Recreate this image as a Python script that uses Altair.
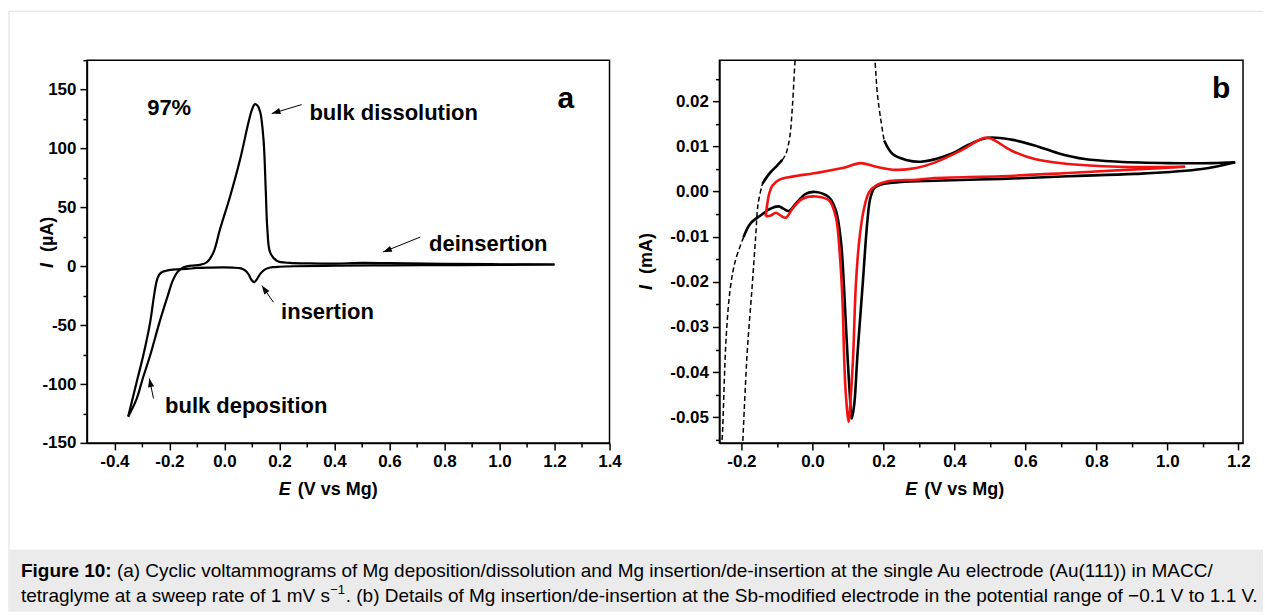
import altair as alt
import pandas as pd

# ---------------- Panel a : Au(111), current in uA ----------------
a_cath_E = [1.20, 1.00, 0.80, 0.60, 0.40, 0.25, 0.20, 0.175, 0.160, 0.145, 0.130, 0.118, 0.108,
            0.098, 0.088, 0.075, 0.060, 0.030, 0.000, -0.050, -0.100, -0.137, -0.170, -0.197,
            -0.215, -0.228, -0.238, -0.246, -0.256, -0.270, -0.295, -0.316, -0.350]
a_cath_I = [1.5, 1.2, 1.0, 0.8, 0.5, 0.0, -0.4, -0.8, -1.5, -3.0, -6.5, -11.0, -13.5,
            -11.5, -7.0, -3.5, -1.8, -1.2, -1.0, -1.1, -1.4, -2.3, -2.6, -3.1,
            -4.0, -5.1, -7.5, -12.2, -24.9, -47.4, -75.6, -95.3, -127.7]
a_anod_E = [-0.350, -0.320, -0.297, -0.270, -0.236, -0.206, -0.188, -0.171, -0.150, -0.120,
            -0.090, -0.064, -0.040, -0.016, 0.021, 0.057, 0.087, 0.100, 0.110, 0.120, 0.130,
            0.142, 0.150, 0.156, 0.166, 0.190, 0.239, 0.300, 0.400, 0.500, 0.600, 0.800,
            1.000, 1.200]
a_anod_I = [-127.7, -113.0, -95.3, -75.6, -47.4, -24.9, -12.2, -5.0, -1.0, 0.5,
            1.2, 3.4, 11.8, 31.6, 59.7, 90.8, 121.8, 133.0, 137.6, 136.5, 131.0,
            107.7, 65.4, 31.6, 11.8, 4.7, 2.8, 2.5, 2.3, 2.8, 2.6, 2.0,
            1.7, 1.5]

a_ann_text = ["97%", "bulk dissolution", "deinsertion", "insertion", "bulk deposition"]
a_ann_E = [-0.281, 0.309, 0.744, 0.206, -0.216]
a_ann_I = [134.8, 130.3, 18.9, -38.7, -119.0]

a_arrow_E0 = [0.281, 0.712, 0.178, -0.258]
a_arrow_I0 = [137.3, 24.8, -30.5, -112.3]
a_arrow_E1 = [0.172, 0.577, 0.136, -0.273]
a_arrow_I1 = [129.7, 12.1, -16.4, -95.3]
a_arrow_ang = [163.3, 158.0, 235.0, 258.7]

# ---------------- Panel b : Sb-modified electrode, current in mA ----------------
# black CV: solid parts and sparse (dashed-looking) parts
bk_cath_E = [1.191, 1.097, 0.909, 0.720, 0.532, 0.344, 0.249, 0.200, 0.175, 0.163, 0.155, 0.141,
             0.127, 0.118, 0.111, 0.104, 0.096, 0.089, 0.080, 0.066, 0.047, 0.009, -0.019,
             -0.047, -0.066, -0.082, -0.095, -0.118, -0.146, -0.175, -0.194]
bk_cath_I = [0.0065, 0.0050, 0.0039, 0.0034, 0.0028, 0.0024, 0.0021, 0.0017, 0.0008, -0.0015,
             -0.0064, -0.0212, -0.0359, -0.0470, -0.0503, -0.0433, -0.0322, -0.0212, -0.0108,
             -0.0042, -0.0013, -0.0001, -0.0005, -0.0027, -0.0043, -0.0038, -0.0033, -0.0038,
             -0.0053, -0.0071, -0.0101]
bk_dep_E = [-0.194, -0.217, -0.231, -0.243, -0.254, -0.257]
bk_dep_I = [-0.0101, -0.0153, -0.0212, -0.0322, -0.0543, -0.0570]
bk_ret_E = [-0.197, -0.184, -0.170, -0.160, -0.153, -0.141]
bk_ret_I = [-0.0570, -0.0359, -0.0212, -0.0101, -0.0027, 0.0017]
bk_foot_E = [-0.141, -0.122, -0.099, -0.085]
bk_foot_I = [0.0017, 0.0039, 0.0058, 0.0070]
bk_rise_E = [-0.085, -0.075, -0.064, -0.056, -0.049, -0.046]
bk_rise_I = [0.0070, 0.0083, 0.0120, 0.0194, 0.0290, 0.0320]
bk_fall_E = [0.171, 0.176, 0.183, 0.193, 0.202]
bk_fall_I = [0.0320, 0.0290, 0.0216, 0.0157, 0.0113]
bk_anod_E = [0.202, 0.226, 0.264, 0.306, 0.390, 0.438, 0.494, 0.560, 0.626, 0.692, 0.767,
             0.862, 1.003, 1.125, 1.191]
bk_anod_I = [0.0113, 0.0083, 0.0070, 0.0066, 0.0083, 0.0103, 0.0119, 0.0115, 0.0102, 0.0085,
             0.0072, 0.0066, 0.0063, 0.0063, 0.0065]

rd_cath_E = [1.050, 0.909, 0.720, 0.532, 0.344, 0.292, 0.216, 0.179, 0.160, 0.146, 0.132, 0.122,
             0.115, 0.108, 0.102, 0.094, 0.089, 0.085, 0.077, 0.066, 0.047, 0.009, -0.028,
             -0.056, -0.075, -0.090, -0.103, -0.117, -0.132]
rd_cath_I = [0.0055, 0.0049, 0.0041, 0.0034, 0.0030, 0.0026, 0.0023, 0.0013, -0.0001, -0.0035,
             -0.0108, -0.0212, -0.0359, -0.0455, -0.0510, -0.0448, -0.0359, -0.0248, -0.0138,
             -0.0057, -0.0020, -0.0011, -0.0016, -0.0038, -0.0058, -0.0053, -0.0047, -0.0053,
             -0.0055]
rd_anod_E = [-0.132, -0.127, -0.122, -0.113, -0.094, -0.056, 0.009, 0.085, 0.136, 0.179, 0.235,
             0.292, 0.344, 0.419, 0.485, 0.504, 0.560, 0.626, 0.720, 0.862, 1.050]
rd_anod_I = [-0.0055, -0.0027, -0.0005, 0.0013, 0.0026, 0.0033, 0.0041, 0.0052, 0.0063, 0.0055,
             0.0048, 0.0052, 0.0064, 0.0091, 0.0119, 0.0117, 0.0091, 0.0072, 0.0061, 0.0055,
             0.0055]

# axis tick lists
a_x_ticks = [-0.4, -0.3, -0.2, -0.1, 0.0, 0.1, 0.2, 0.3, 0.4, 0.5, 0.6, 0.7, 0.8, 0.9, 1.0,
             1.1, 1.2, 1.3, 1.4]
a_y_ticks = [-150, -125, -100, -75, -50, -25, 0, 25, 50, 75, 100, 125, 150, 175]
b_x_ticks = [-0.2, -0.1, 0.0, 0.1, 0.2, 0.3, 0.4, 0.5, 0.6, 0.7, 0.8, 0.9, 1.0, 1.1, 1.2]
b_y_ticks = [-0.055, -0.05, -0.045, -0.04, -0.035, -0.03, -0.025, -0.02, -0.015, -0.01,
             -0.005, 0.0, 0.005, 0.01, 0.015, 0.02, 0.025]

caption_bold = "Figure 10:"
caption_l1 = ("(a) Cyclic voltammograms of Mg deposition/dissolution and Mg insertion/de-insertion "
              "at the single Au electrode (Au(111)) in MACC/")
caption_l2a = "tetraglyme at a sweep rate of 1 mV s"
caption_sup = "\u22121"
caption_l2b = (". (b) Details of Mg insertion/de-insertion at the Sb-modified electrode in the "
               "potential range of \u22120.1 V to 1.1 V.")

FONT = "Liberation Sans"
MINUS = "\u2212"


def seg(E, I, name):
    return pd.DataFrame({"E": E, "I": I, "seg": name, "i": list(range(len(E)))})


def major_test(mult):
    return f"abs(datum.value*{mult} - round(datum.value*{mult})) < 0.01"


def make_axis(values, mult, fmt):
    test = major_test(mult)
    return alt.Axis(
        values=values,
        labelExpr=f"{test} ? replace(format(datum.value, '{fmt}'), '{MINUS}', '-') : ''",
        tickSize={"condition": {"test": test, "value": 7}, "value": 4},
        labelFlush=False, labelOverlap=False, title=None, grid=False,
        labelPadding=4,
    )


# ---------------- Panel a ----------------
xa_scale = alt.Scale(domain=[-0.5, 1.4], nice=False, zero=False)
ya_scale = alt.Scale(domain=[-150, 175], nice=False, zero=False)
xa_axis = make_axis(a_x_ticks, 5, ".1f")
ya_axis = make_axis(a_y_ticks, 0.02, "d")

df_a = pd.concat([seg(a_cath_E, a_cath_I, "cath"), seg(a_anod_E, a_anod_I, "anod")])
lines_a = alt.Chart(df_a).mark_line(color="black", strokeWidth=2.2, interpolate="catmull-rom").encode(
    x=alt.X("E:Q", scale=xa_scale, axis=xa_axis),
    y=alt.Y("I:Q", scale=ya_scale, axis=ya_axis),
    detail="seg:N", order="i:Q")

ann_a = alt.Chart(pd.DataFrame({"E": a_ann_E, "I": a_ann_I, "t": a_ann_text})).mark_text(
    font=FONT, fontWeight="bold", fontSize=22, align="left", baseline="middle", color="black"
).encode(x=alt.X("E:Q", scale=xa_scale, axis=xa_axis),
         y=alt.Y("I:Q", scale=ya_scale, axis=ya_axis), text="t:N")

arr_df_a = pd.DataFrame({"E": a_arrow_E0, "I": a_arrow_I0, "E2": a_arrow_E1, "I2": a_arrow_I1,
                         "ang": a_arrow_ang})
arr_lines_a = alt.Chart(arr_df_a).mark_rule(color="black", strokeWidth=1).encode(
    x=alt.X("E:Q", scale=xa_scale, axis=xa_axis), y=alt.Y("I:Q", scale=ya_scale, axis=ya_axis),
    x2="E2:Q", y2="I2:Q")
HEAD = "M0,0L-1,-0.36L-1,0.36Z"
arr_heads_a = alt.Chart(arr_df_a).mark_point(shape=HEAD, filled=True, size=300, color="black",
                                             opacity=1).encode(
    x=alt.X("E2:Q", scale=xa_scale, axis=xa_axis), y=alt.Y("I2:Q", scale=ya_scale, axis=ya_axis),
    angle=alt.Angle("ang:Q", scale=None))

dummy = pd.DataFrame({"d": [0]})


def txt(t, x, y, size=18, style="normal", weight="bold", angle=0, align="left"):
    kw = dict(text=t, font=FONT, fontSize=size, fontStyle=style, fontWeight=weight,
              align=align, baseline="middle", color="black")
    if angle:
        kw["angle"] = angle
    return alt.Chart(dummy).mark_text(**kw).encode(x=alt.value(x), y=alt.value(y))


panel_a = alt.layer(
    lines_a, arr_lines_a, arr_heads_a, ann_a,
    txt("a", 471, 39, size=30),
    txt("E", 192, 430, style="italic"),
    txt("(V vs Mg)", 211, 430),
    txt("(\u00b5A)", -39, 192, angle=270),
    txt("I", -39, 208, style="italic", angle=270),
).properties(width=523, height=383)

# ---------------- Panel b ----------------
xb_scale = alt.Scale(domain=[-0.262, 1.213], nice=False, zero=False)
yb_scale = alt.Scale(domain=[-0.0557, 0.0291], nice=False, zero=False)
xb_axis = make_axis(b_x_ticks, 5, ".1f")
yb_axis = make_axis(b_y_ticks, 100, ".2f")

df_bk_solid = pd.concat([seg(bk_cath_E, bk_cath_I, "c"), seg(bk_foot_E, bk_foot_I, "f"),
                         seg(bk_anod_E, bk_anod_I, "a")])
df_bk_dash = pd.concat([seg(bk_dep_E, bk_dep_I, "d"), seg(bk_ret_E, bk_ret_I, "r"),
                        seg(bk_rise_E, bk_rise_I, "u"), seg(bk_fall_E, bk_fall_I, "w")])
df_rd = pd.concat([seg(rd_cath_E, rd_cath_I, "c"), seg(rd_anod_E, rd_anod_I, "a")])


def bline(df, color, width, dash=None):
    kw = dict(color=color, strokeWidth=width, interpolate="catmull-rom", clip=True)
    if dash:
        kw["strokeDash"] = dash
    return alt.Chart(df).mark_line(**kw).encode(
        x=alt.X("E:Q", scale=xb_scale, axis=xb_axis),
        y=alt.Y("I:Q", scale=yb_scale, axis=yb_axis),
        detail="seg:N", order="i:Q")


panel_b = alt.layer(
    bline(df_bk_dash, "black", 1.5, [5, 3]),
    bline(df_bk_solid, "black", 2.6),
    bline(df_rd, "#f21212", 2.6),
    txt("b", 502, 29, size=30, align="center"),
    txt("E", 186, 430, style="italic"),
    txt("(V vs Mg)", 205, 430),
    txt("(mA)", -72, 214, angle=270),
    txt("I", -72, 230, style="italic", angle=270),
).properties(width=524, height=383)

# ---------------- Caption strip and page frame ----------------
frame_col = "#dedede"
caption = alt.layer(
    alt.Chart(dummy).mark_rect(color="#ebebeb").encode(
        x=alt.value(-77), x2=alt.value(1177), y=alt.value(0), y2=alt.value(62)),
    alt.Chart(dummy).mark_rule(color=frame_col, strokeWidth=1).encode(
        x=alt.value(-78), x2=alt.value(1177), y=alt.value(-539), y2=alt.value(-539)),
    alt.Chart(dummy).mark_rule(color=frame_col, strokeWidth=1).encode(
        x=alt.value(-78), x2=alt.value(-78), y=alt.value(-539), y2=alt.value(62)),
    txt(caption_bold, -66, 21, size=19),
    txt(caption_l1, 30, 21, size=19, weight="normal"),
    txt(caption_l2a, -66, 46, size=19, weight="normal"),
    txt(caption_sup, 243.5, 40, size=13, weight="normal"),
    txt(caption_l2b, 259, 46, size=19, weight="normal"),
).properties(width=100, height=60, view=alt.ViewBackground(stroke="transparent"))

chart = alt.concat(
    panel_a, panel_b, caption, columns=2, bounds="flush",
    spacing={"row": 107, "column": 110},
).properties(
    padding={"left": 7, "top": 9, "right": 0, "bottom": 0},
    background="white",
).configure_view(
    stroke="black", strokeWidth=1.5
).configure_axis(
    domainColor="black", domainWidth=1.5, tickColor="black", tickWidth=1.5,
    labelColor="black", labelFont=FONT, labelFontWeight="bold", labelFontSize=17,
)

chart.save("out.html", embed_options={"renderer": "svg", "actions": False})
